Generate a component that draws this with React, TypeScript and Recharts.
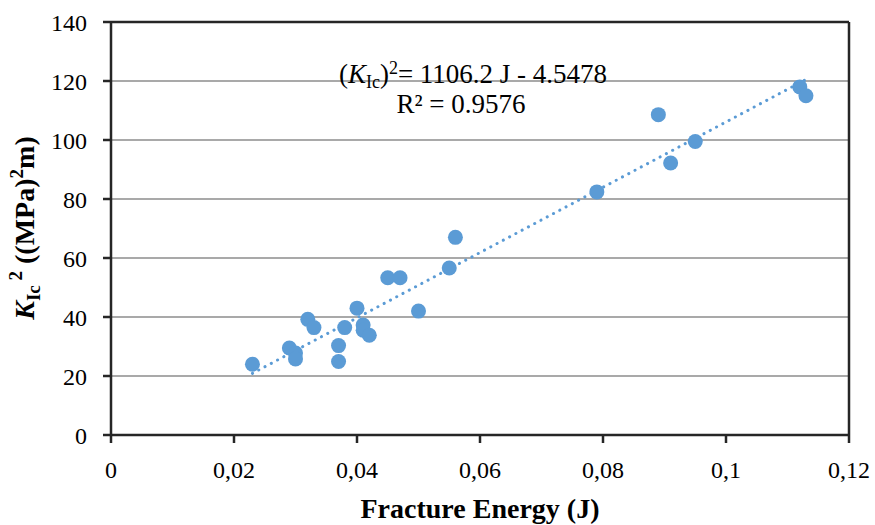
import { ComposedChart, Scatter, XAxis, YAxis, CartesianGrid, ReferenceLine } from "recharts";

const energy = [0.023, 0.029, 0.03, 0.03, 0.032, 0.033, 0.037, 0.037, 0.038, 0.04, 0.041, 0.041, 0.042, 0.045, 0.047, 0.05, 0.055, 0.056, 0.079, 0.089, 0.091, 0.095, 0.112, 0.113];
const kic2 = [24, 29.5, 27.8, 25.8, 39.2, 36.4, 30.3, 24.9, 36.4, 43, 37.3, 35.5, 33.8, 53.3, 53.3, 42, 56.6, 67, 82.4, 108.6, 92.2, 99.5, 118, 115];

const trendX = [0.023, 0.113];
const trendY = [20.9, 120.5];

const xTicks = [0, 0.02, 0.04, 0.06, 0.08, 0.1, 0.12];
const yTicks = [0, 20, 40, 60, 80, 100, 120, 140];

const points = energy.map((x, i) => ({ x, y: kic2[i] }));
const trend = trendX.map((x, i) => ({ x, y: trendY[i] }));

const blue = "#5B9BD5";
const dark = "#262626";
const font = "'Liberation Serif', 'Times New Roman', serif";

const Dot = (props: any) => <circle cx={props.cx} cy={props.cy} r={7.5} fill={blue} />;

export default function App() {
  return (
    <div style={{ position: "absolute", left: 0, top: 0, width: 875, height: 525, background: "#fff" }}>
      <ComposedChart width={875} height={525} margin={{ top: 22, right: 26, bottom: 30, left: 0 }}>
        <CartesianGrid horizontal vertical={false} stroke="#8c8c8c" strokeWidth={1.5} />
        <XAxis
          type="number"
          dataKey="x"
          domain={[0, 0.12]}
          ticks={xTicks}
          height={60}
          axisLine={{ stroke: dark, strokeWidth: 2.5 }}
          tickLine={{ stroke: dark, strokeWidth: 2.5 }}
          tickSize={8}
          tickMargin={18}
          tickFormatter={(v: number) => String(v).replace(".", ",")}
          tick={{ fill: "#000", fontSize: 24, fontFamily: font }}
        />
        <YAxis
          type="number"
          dataKey="y"
          domain={[0, 140]}
          ticks={yTicks}
          width={111}
          axisLine={{ stroke: dark, strokeWidth: 2.5 }}
          tickLine={{ stroke: dark, strokeWidth: 2.5 }}
          tickSize={8}
          tickMargin={16}
          tick={{ fill: "#000", fontSize: 24, fontFamily: font }}
        />
        <ReferenceLine y={140} stroke={dark} strokeWidth={2.5} />
        <ReferenceLine x={0.12} stroke={dark} strokeWidth={2.5} />
        <Scatter
          data={trend}
          isAnimationActive={false}
          shape={() => <g />}
          line={{ stroke: blue, strokeWidth: 3, strokeDasharray: "0.1 7", strokeLinecap: "round" }}
        />
        <Scatter data={points} isAnimationActive={false} shape={Dot} />
      </ComposedChart>
      <svg width={875} height={525} style={{ position: "absolute", left: 0, top: 0, pointerEvents: "none" }}>
        <text x={473} y={83} textAnchor="middle" fontFamily={font} fontSize={27} fill="#000">
          (<tspan fontStyle="italic">K</tspan>
          <tspan fontSize={18} dy={5}>Ic</tspan>
          <tspan dy={-5}>)</tspan>
          <tspan fontSize={18} dy={-9}>2</tspan>
          <tspan dy={9}>= 1106.2 J - 4.5478</tspan>
        </text>
        <text x={461} y={113} textAnchor="middle" fontFamily={font} fontSize={27} fill="#000">
          R² = 0.9576
        </text>
        <text x={480} y={518} textAnchor="middle" fontFamily={font} fontSize={28} fontWeight="bold" fill="#000">
          Fracture Energy (J)
        </text>
        <text
          x={0}
          y={0}
          transform="translate(34,228) rotate(-90)"
          textAnchor="middle"
          fontFamily={font}
          fontWeight="bold"
          fontSize={28}
          fill="#000"
        >
          <tspan fontStyle="italic">K</tspan>
          <tspan fontSize={19} dy={6}>Ic</tspan>
          <tspan fontSize={19} dy={-18}> 2</tspan>
          <tspan dy={12}> ((MPa)</tspan>
          <tspan fontSize={19} dy={-11}>2</tspan>
          <tspan dy={11}>m)</tspan>
        </text>
      </svg>
    </div>
  );
}
